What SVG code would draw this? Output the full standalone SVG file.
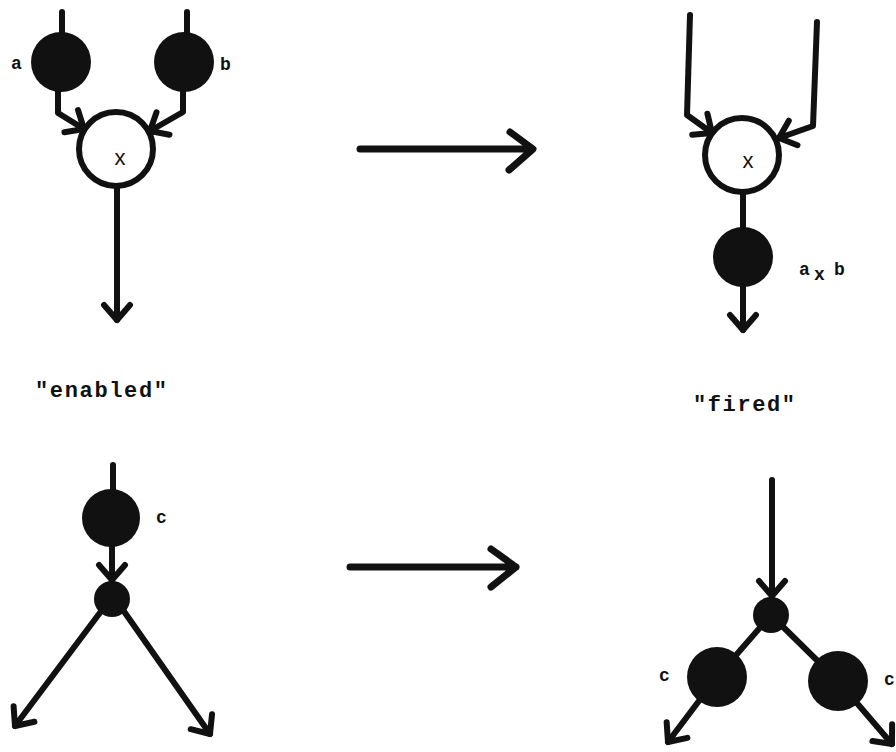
<svg xmlns="http://www.w3.org/2000/svg" width="896" height="752" viewBox="0 0 896 752">
  <style>
    .edge { fill: none; stroke: #111; stroke-width: 6; stroke-linecap: round; stroke-linejoin: round; }
    .big { fill: none; stroke: #111; stroke-width: 7; stroke-linecap: round; stroke-linejoin: round; }
    .token { fill: #111; }
    .op { fill: #fff; stroke: #111; stroke-width: 6; }
    .lbl { font-family: "Liberation Mono", "DejaVu Sans Mono", monospace; font-weight: bold; fill: #111; }
    .opsym { font-family: "Liberation Sans", "DejaVu Sans", sans-serif; font-weight: normal; fill: #111; font-size: 22px; text-anchor: middle; }
    .cap { font-family: "Liberation Mono", "DejaVu Sans Mono", monospace; font-weight: bold; fill: #111; font-size: 22px; }
  </style>
  <defs>
    <marker id="vee" markerUnits="userSpaceOnUse" viewBox="-20 -16 24 32" refX="0" refY="0" markerWidth="24" markerHeight="32" orient="auto" overflow="visible">
      <path d="M-15,-13 L0,0 L-15,13" fill="none" stroke="#111" stroke-width="6" stroke-linecap="round" stroke-linejoin="round"/>
    </marker>
  </defs>
  <rect width="896" height="752" fill="#fff"/>

  <!-- connectors -->
  <g id="connectors">
    <!-- multiply, enabled -->
    <line class="edge" x1="62" y1="12" x2="62" y2="36"/>
    <line class="edge" x1="187" y1="12" x2="187" y2="36"/>
    <path class="edge" d="M58,90 L58,113 L84,129" marker-end="url(#vee)"/>
    <path class="edge" d="M183,90 L183,112 L150,131" marker-end="url(#vee)"/>
    <path class="edge" d="M117,186 L117,320" marker-end="url(#vee)"/>

    <!-- multiply, fired -->
    <path class="edge" d="M690,15 L687,115 L712,133" marker-end="url(#vee)"/>
    <path class="edge" d="M817,22 L813,126 L779,138" marker-end="url(#vee)"/>
    <line class="edge" x1="743" y1="190" x2="743" y2="230"/>
    <path class="edge" d="M743,285 L743,330" marker-end="url(#vee)"/>

    <!-- transition arrows -->
    <path class="big" d="M360,149 L532,149 M510,132 L533,149 L509,170"/>
    <path class="big" d="M350,567 L516,567 M491,549 L516,567 L491,587"/>

    <!-- fork, enabled -->
    <line class="edge" x1="113" y1="465" x2="113" y2="492"/>
    <path class="edge" d="M112,545 L112,580" marker-end="url(#vee)"/>
    <path class="edge" d="M102,610 L15,726" marker-end="url(#vee)"/>
    <path class="edge" d="M123,610 L210,734" marker-end="url(#vee)"/>

    <!-- fork, fired -->
    <path class="edge" d="M772,480 L772,596" marker-end="url(#vee)"/>
    <line class="edge" x1="771" y1="615" x2="717" y2="677"/>
    <path class="edge" d="M717,677 L668,742" marker-end="url(#vee)"/>
    <line class="edge" x1="771" y1="615" x2="838" y2="681"/>
    <path class="edge" d="M838,681 L892,744" marker-end="url(#vee)"/>
  </g>

  <!-- multiply, enabled -->
  <g id="tokenA">
    <circle class="token" cx="61" cy="62" r="30"/>
    <text class="lbl" x="11" y="69" font-size="18">a</text>
  </g>
  <g id="tokenB">
    <circle class="token" cx="184" cy="62" r="30"/>
    <text class="lbl" x="220" y="70" font-size="18">b</text>
  </g>
  <g id="mulEnabled">
    <circle class="op" cx="116" cy="149" r="37"/>
    <text class="opsym" x="120" y="165">x</text>
  </g>
  <g id="captionEnabled">
    <text class="cap" x="35" y="397" textLength="132" lengthAdjust="spacing">"enabled"</text>
  </g>

  <!-- multiply, fired -->
  <g id="mulFired">
    <circle class="op" cx="742" cy="155" r="37"/>
    <text class="opsym" x="748" y="168">x</text>
  </g>
  <g id="tokenAxB">
    <circle class="token" cx="743" cy="257" r="30"/>
    <text class="lbl" font-size="18"><tspan x="799" y="275">a</tspan><tspan x="814" y="280">x</tspan><tspan x="834" y="275">b</tspan></text>
  </g>
  <g id="captionFired">
    <text class="cap" x="693" y="411" textLength="102" lengthAdjust="spacing">"fired"</text>
  </g>

  <!-- fork, enabled -->
  <g id="tokenC">
    <circle class="token" cx="111" cy="518" r="29"/>
    <text class="lbl" x="156" y="523" font-size="18">c</text>
  </g>
  <g id="forkEnabled">
    <circle class="token" cx="112" cy="599" r="18"/>
  </g>

  <!-- fork, fired -->
  <g id="forkFired">
    <circle class="token" cx="771" cy="615" r="18"/>
  </g>
  <g id="tokenC1">
    <circle class="token" cx="717" cy="677" r="30"/>
    <text class="lbl" x="659" y="681" font-size="18">c</text>
  </g>
  <g id="tokenC2">
    <circle class="token" cx="838" cy="681" r="30"/>
    <text class="lbl" x="884" y="685" font-size="18">c</text>
  </g>
</svg>
